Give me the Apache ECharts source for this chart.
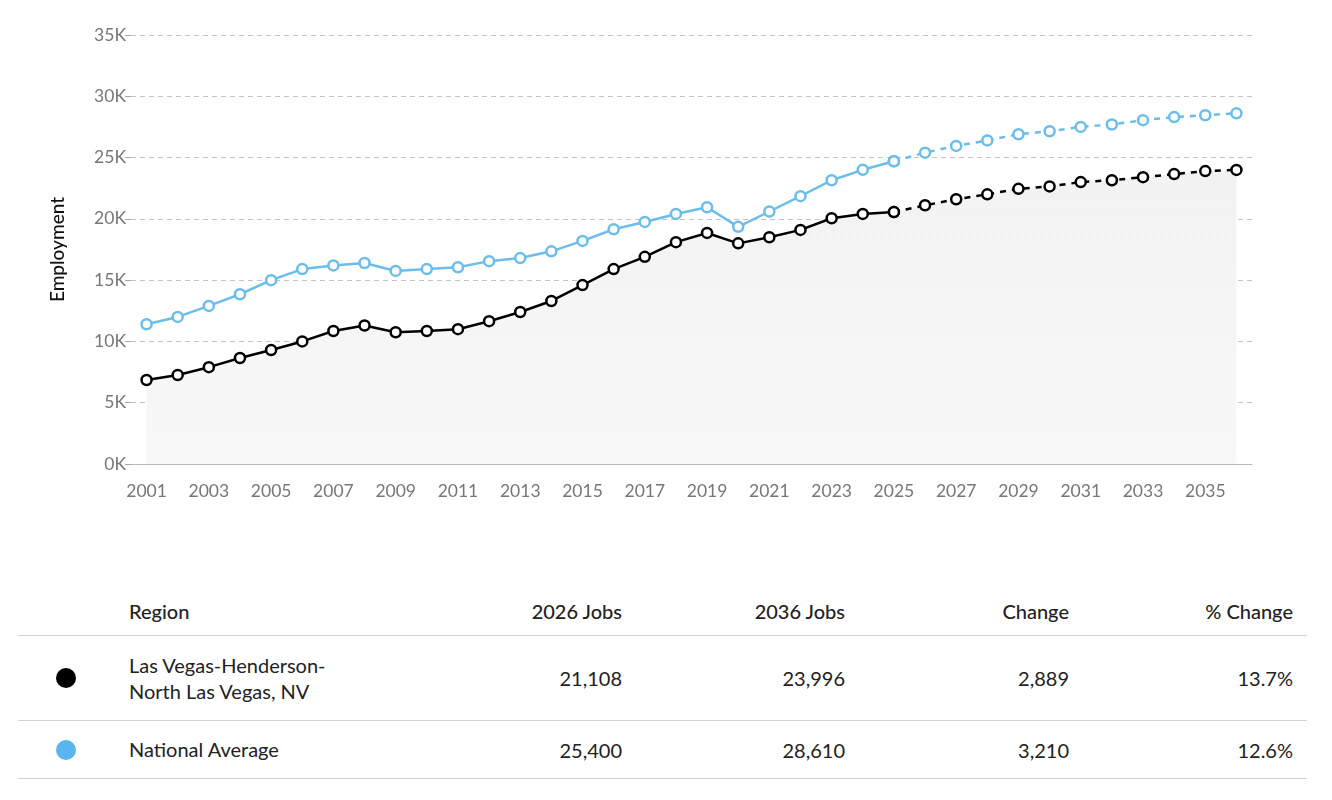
<!DOCTYPE html>
<html><head><meta charset="utf-8">
<script src="https://cdn.jsdelivr.net/npm/echarts@6/dist/echarts.min.js"></script>
<style>
body{margin:0;background:#fff;font-family:Lato,"Noto Sans",sans-serif;}
#c{position:absolute;left:0;top:0;width:1332px;height:520px;}
#t{position:absolute;left:18px;top:588px;width:1289px;font-size:20px;color:#222;}
.row{position:relative;border-bottom:1.5px solid #d4d4d4;}
.cell{position:absolute;text-align:right;}
.dot{position:absolute;left:38px;width:20px;height:20px;border-radius:50%;}
</style></head><body>
<div id="c"></div>
<div id="t"></div>
<script>
const years=[];for(let y=2001;y<=2036;y++)years.push(String(y));
const local=[6.85,7.26,7.9,8.65,9.3,10.0,10.85,11.3,10.75,10.85,11.0,11.65,12.4,13.3,14.6,15.9,16.9,18.1,18.85,18.0,18.5,19.1,20.05,20.4,20.55,21.108,21.6,22.0,22.45,22.65,23.0,23.15,23.4,23.65,23.9,23.996];
const national=[11.4,12.0,12.9,13.85,15.0,15.9,16.2,16.4,15.75,15.9,16.05,16.55,16.8,17.35,18.2,19.15,19.75,20.4,20.95,19.35,20.6,21.85,23.15,24.0,24.7,25.4,25.95,26.4,26.9,27.15,27.5,27.7,28.05,28.3,28.45,28.61];
const splitIdx=24; // 2025
const tableHeader=["Region","2026 Jobs","2036 Jobs","Change","% Change"];
const tableRows=[
 {name:"Las Vegas-Henderson-<br>North Las Vegas, NV",color:"#000",v:["21,108","23,996","2,889","13.7%"]},
 {name:"National Average",color:"#5ab4ee",v:["25,400","28,610","3,210","12.6%"]}
];
const blue="#6cbde9";
function part(arr,solid){return arr.map((v,i)=>solid?(i<=splitIdx?v*1000:null):(i>=splitIdx?v*1000:null));}
function line(data,color,dashed){return {type:'line',data,symbol:'circle',symbolSize:10,showAllSymbol:true,
 lineStyle:{color,width:2.5,type:dashed?[6,6]:'solid'},itemStyle:{color:'#fff',borderColor:color,borderWidth:2.5},z:dashed?3:4,silent:true};}
const chart=echarts.init(document.getElementById('c'));
chart.setOption({animation:false,
 grid:{left:131,right:80,top:35,height:429},
 xAxis:{type:'category',data:years,boundaryGap:true,
  axisLine:{lineStyle:{color:'#bbb'}},axisTick:{show:false},
  axisLabel:{interval:1,color:'#777',fontSize:17.5,fontFamily:'Lato',margin:18}},
 yAxis:{type:'value',min:0,max:35000,interval:5000,name:'Employment',nameLocation:'middle',nameGap:64,
  nameTextStyle:{color:'#111',fontSize:19,fontFamily:'Lato',fontWeight:500},
  axisLine:{show:false},axisTick:{show:true,length:6,lineStyle:{color:'#aaa'}},
  axisLabel:{color:'#777',fontSize:17.5,fontFamily:'Lato',margin:5,formatter:v=>(v/1000)+'K'},
  splitLine:{lineStyle:{color:'#c4c4c4',type:[5,4]}}},
 series:[
  {type:'line',data:local.map(v=>v*1000),symbol:'none',lineStyle:{opacity:0},
   areaStyle:{color:new echarts.graphic.LinearGradient(0,0,0,1,[{offset:0,color:'#f2f2f2'},{offset:1,color:'#f8f8f8'}]),opacity:1},z:1,silent:true},
  line(part(national,true),blue,false),line(part(national,false),blue,true),
  line(part(local,true),'#000',false),line(part(local,false),'#000',true)
 ]});
const cols=[604,827,1051,1275];
let h='<div class="row" style="height:47px;font-weight:500">'+'<div class="cell" style="left:111px;top:11px;text-align:left">'+tableHeader[0]+'</div>';
tableHeader.slice(1).forEach((t,i)=>h+='<div class="cell" style="right:'+(1289-cols[i])+'px;top:11px">'+t+'</div>');
h+='</div>';
tableRows.forEach((r,ri)=>{const ht=ri==0?84:57;
 h+='<div class="row" style="height:'+ht+'px">';
 h+='<div class="dot" style="background:'+r.color+';top:'+(ht/2-10)+'px"></div>';
 h+='<div class="cell" style="left:111px;top:'+(ri==0?16:15)+'px;text-align:left;line-height:26px">'+r.name+'</div>';
 r.v.forEach((t,i)=>h+='<div class="cell" style="right:'+(1289-cols[i])+'px;top:'+(ht/2-13)+'px;line-height:26px">'+t+'</div>');
 h+='</div>';});
document.getElementById('t').innerHTML=h;
</script></body></html>
